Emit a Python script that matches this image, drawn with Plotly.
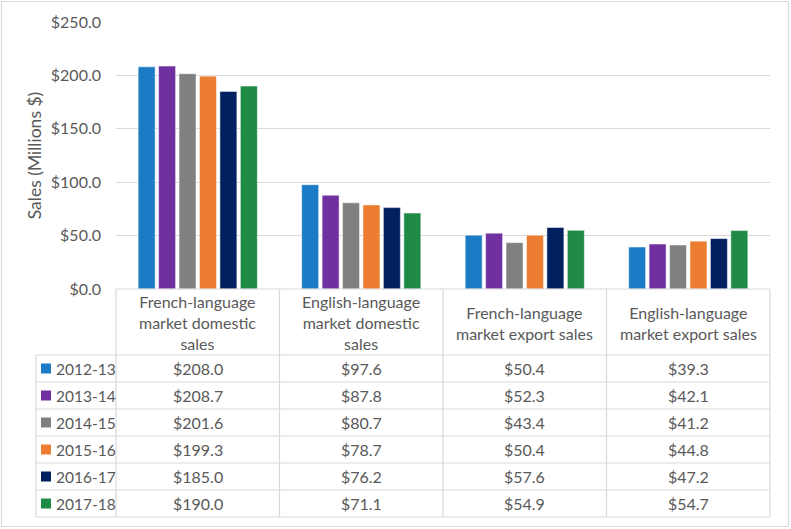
import plotly.graph_objects as go

categories = ["French-language market domestic sales",
              "English-language market domestic sales",
              "French-language market export sales",
              "English-language market export sales"]
header_labels = ["French-language<br>market domestic<br>sales",
                 "English-language<br>market domestic<br>sales",
                 "French-language<br>market export sales",
                 "English-language<br>market export sales"]
years = ["2012-13", "2013-14", "2014-15", "2015-16", "2016-17", "2017-18"]
s_2012_13 = [208.0, 97.6, 50.4, 39.3]
s_2013_14 = [208.7, 87.8, 52.3, 42.1]
s_2014_15 = [201.6, 80.7, 43.4, 41.2]
s_2015_16 = [199.3, 78.7, 50.4, 44.8]
s_2016_17 = [185.0, 76.2, 57.6, 47.2]
s_2017_18 = [190.0, 71.1, 54.9, 54.7]
series = [s_2012_13, s_2013_14, s_2014_15, s_2015_16, s_2016_17, s_2017_18]
colors = ["#1B7BC4", "#7030A0", "#808080", "#ED7D31", "#002060", "#1F8A45"]

W, H = 791, 529
FONT = "Lato"
TXT = "#595959"
GRID = "#D9D9D9"

def px(x):
    return x / W

def py(y):
    return 1 - y / H

x0, x1 = 116, 770
y_top, y_zero = 22, 289
hdr_bot = 355
row_h = 27

fig = go.Figure()
for name, vals, c in zip(years, series, colors):
    fig.add_trace(go.Bar(x=categories, y=vals, name=name,
                         marker=dict(color=c, line=dict(color="rgba(255,255,255,0.6)", width=0.8))))

fig.update_layout(
    template="none",
    width=W, height=H, autosize=False,
    margin=dict(l=0, r=0, t=0, b=0, pad=0, autoexpand=False),
    paper_bgcolor="white", plot_bgcolor="white",
    barmode="group", bargap=0.25, bargroupgap=0.17,
    showlegend=False,
    font=dict(family=FONT, size=15, color=TXT),
    xaxis=dict(domain=[px(x0), px(x1)], showticklabels=False, showgrid=False,
               showline=False, zeroline=False, fixedrange=True, automargin=False),
    yaxis=dict(domain=[py(y_zero), py(y_top)], range=[0, 250], dtick=50,
               tickprefix="$", tickformat=".1f", showgrid=True, gridcolor=GRID,
               gridwidth=1, zeroline=False, showline=False, ticks="",
               ticklabelstandoff=14, automargin=False, fixedrange=True,
               tickfont=dict(family=FONT, size=16, color=TXT),
               title=dict(text="Sales (Millions $)", standoff=4,
                          font=dict(family=FONT, size=17.5, color=TXT))),
)

shapes = []
ncat = len(categories)
cw = (x1 - x0) / ncat
n_rows = len(years)
tbl_bot = hdr_bot + n_rows * row_h
line = dict(color=GRID, width=1.2)
for i in range(ncat + 1):
    xv = x0 + i * cw
    shapes.append(dict(type="line", xref="paper", yref="paper",
                       x0=px(xv), x1=px(xv), y0=py(y_zero), y1=py(tbl_bot), line=line))
shapes.append(dict(type="line", xref="paper", yref="paper",
                   x0=px(36), x1=px(36), y0=py(hdr_bot), y1=py(tbl_bot), line=line))
shapes.append(dict(type="line", xref="paper", yref="paper",
                   x0=px(x0), x1=px(x1), y0=py(y_zero), y1=py(y_zero), line=line))
for r in range(n_rows + 1):
    yh = hdr_bot + r * row_h
    shapes.append(dict(type="line", xref="paper", yref="paper",
                       x0=px(36), x1=px(x1), y0=py(yh), y1=py(yh), line=line))
shapes.append(dict(type="rect", xref="paper", yref="paper",
                   x0=px(1.5), x1=px(W - 2.5), y0=py(H - 2.5), y1=py(1.5),
                   line=dict(color="#D9D9D9", width=1.2)))

annotations = []
for i, lab in enumerate(header_labels):
    cx = x0 + (i + 0.5) * cw
    annotations.append(dict(xref="paper", yref="paper", x=px(cx), y=py((y_zero + hdr_bot) / 2 + 1),
                            text=lab, showarrow=False, xanchor="center", yanchor="middle",
                            font=dict(family=FONT, size=16, color=TXT)))
for r, (name, vals, c) in enumerate(zip(years, series, colors)):
    cy = hdr_bot + (r + 0.5) * row_h
    shapes.append(dict(type="rect", xref="paper", yref="paper",
                       x0=px(41), x1=px(51), y0=py(cy + 5), y1=py(cy - 5),
                       fillcolor=c, line=dict(width=0)))
    annotations.append(dict(xref="paper", yref="paper", x=px(54), y=py(cy),
                            text=name, showarrow=False, xanchor="left", yanchor="middle",
                            font=dict(family=FONT, size=15.5, color=TXT)))
    for i, v in enumerate(vals):
        cx = x0 + (i + 0.5) * cw
        annotations.append(dict(xref="paper", yref="paper", x=px(cx), y=py(cy),
                                text=f"${v:.1f}", showarrow=False, xanchor="center",
                                yanchor="middle", font=dict(family=FONT, size=16, color=TXT)))

fig.update_layout(shapes=shapes, annotations=annotations)
fig.write_html("out.html", config={"displayModeBar": False, "responsive": False},
               post_script="document.body.style.margin='0';document.body.style.overflow='hidden';")
